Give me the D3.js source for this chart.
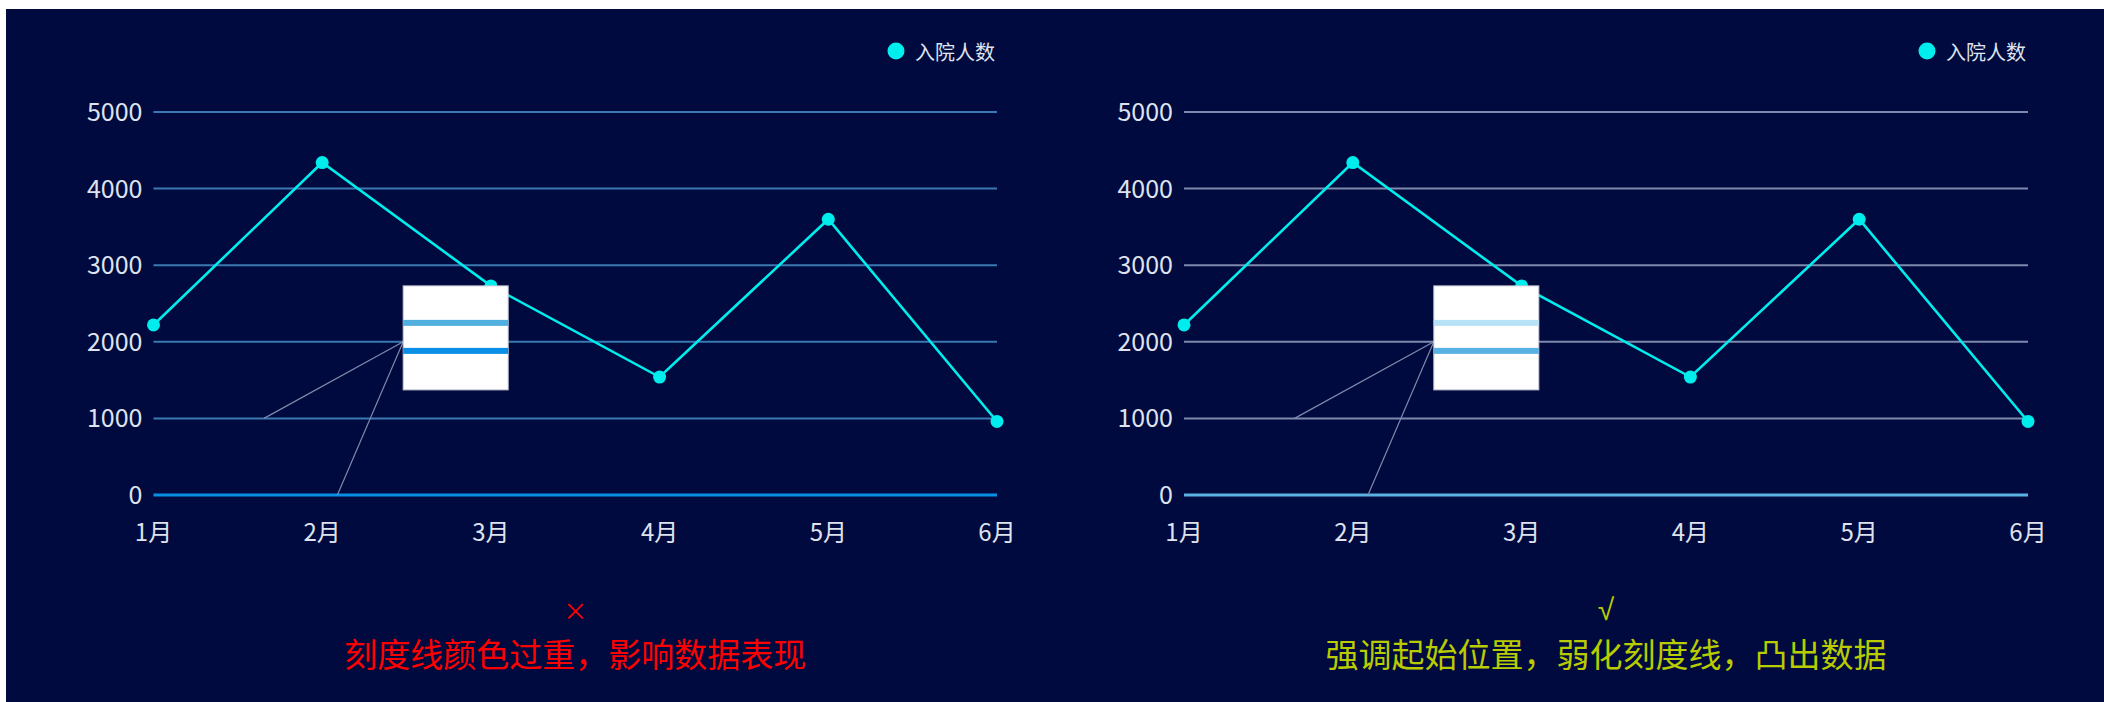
<!DOCTYPE html>
<html>
<head>
<meta charset="utf-8">
<script src="https://cdn.jsdelivr.net/npm/d3@7/dist/d3.min.js"></script>
<style>
  html, body { margin: 0; padding: 0; background: #ffffff; }
  svg { display: block; }
  text { font-family: "Noto Sans CJK SC", "Noto Sans", sans-serif; }
</style>
</head>
<body>
<svg id="chart" width="2104" height="702"></svg>
<script>
// Monthly admissions
const months = ["1月", "2月", "3月", "4月", "5月", "6月"];
const admissions = [2220, 4340, 2730, 1540, 3600, 960];
const yTicks = [0, 1000, 2000, 3000, 4000, 5000];
const seriesName = "入院人数";
const captions = ["刻度线颜色过重，影响数据表现", "强调起始位置，弱化刻度线，凸出数据"];
const marks = ["×", "√"];

const svg = d3.select("#chart");
svg.append("rect")
  .attr("x", 6).attr("y", 9)
  .attr("width", 2104 - 6).attr("height", 702 - 9)
  .attr("fill", "#010a3e");

const panels = [
  { x0: 153.5, x1: 997, grid: "#3a78b2", axis: "#0a8fe6",
    stripeTop: "#52b0e0", stripeBottom: "#0a8fe6", captionColor: "#ff0000" },
  { x0: 1184, x1: 2028, grid: "#7d8aae", axis: "#5ab2e2",
    stripeTop: "#b8e3f7", stripeBottom: "#5ab2e2", captionColor: "#b8cc00" }
];

const yScale = d3.scaleLinear().domain([0, 5000]).range([495, 112]);

panels.forEach((p, i) => {
  const g = svg.append("g");
  const x = d3.scalePoint().domain(months).range([p.x0, p.x1]);
  const step = x.step();

  // horizontal grid lines (value 0 drawn as the axis line)
  g.append("g").selectAll("line")
    .data(yTicks.filter(d => d !== 0))
    .join("line")
    .attr("x1", p.x0).attr("x2", p.x1)
    .attr("y1", d => yScale(d)).attr("y2", d => yScale(d))
    .attr("stroke", p.grid).attr("stroke-width", 2);

  g.append("line")
    .attr("x1", p.x0).attr("x2", p.x1)
    .attr("y1", yScale(0)).attr("y2", yScale(0))
    .attr("stroke", p.axis).attr("stroke-width", 3);

  // y tick labels
  g.append("g").selectAll("text")
    .data(yTicks)
    .join("text")
    .attr("x", p.x0 - 11)
    .attr("y", d => yScale(d) - 2)
    .attr("text-anchor", "end")
    .attr("dominant-baseline", "central")
    .attr("font-size", 25)
    .attr("fill", "#dfe3ee")
    .text(d => d);

  // x tick labels
  g.append("g").selectAll("text")
    .data(months)
    .join("text")
    .attr("x", d => x(d))
    .attr("y", 530)
    .attr("text-anchor", "middle")
    .attr("dominant-baseline", "central")
    .attr("font-size", 24)
    .attr("fill", "#dfe3ee")
    .text(d => d);

  // series line
  const line = d3.line()
    .x((d, k) => x(months[k]))
    .y(d => yScale(d));
  g.append("path")
    .datum(admissions)
    .attr("d", line)
    .attr("fill", "none")
    .attr("stroke", "#00eded")
    .attr("stroke-width", 2.6);

  // callout to the magnified inset
  const boxX = p.x0 + step * 1.48;
  const boxY = yScale(2730);
  const boxW = 105, boxH = 104;
  const anchorY = yScale(2000);
  g.append("g").selectAll("line")
    .data([[p.x0 + step * 0.655, yScale(1000)], [p.x0 + step * 1.09, yScale(0)]])
    .join("line")
    .attr("x1", d => d[0]).attr("y1", d => d[1])
    .attr("x2", boxX).attr("y2", anchorY)
    .attr("stroke", "#8088ac").attr("stroke-width", 1.2);

  g.selectAll("circle.pt")
    .data(admissions)
    .join("circle")
    .attr("class", "pt")
    .attr("cx", (d, k) => x(months[k]))
    .attr("cy", d => yScale(d))
    .attr("r", 6.5)
    .attr("fill", "#00eded");

  const inset = g.append("g");
  inset.append("rect")
    .attr("x", boxX).attr("y", boxY)
    .attr("width", boxW).attr("height", boxH)
    .attr("fill", "#ffffff")
    .attr("stroke", "#c6c8d4").attr("stroke-width", 1);
  inset.append("rect")
    .attr("x", boxX).attr("y", boxY + 34)
    .attr("width", boxW).attr("height", 6)
    .attr("fill", p.stripeTop);
  inset.append("rect")
    .attr("x", boxX).attr("y", boxY + 62)
    .attr("width", boxW).attr("height", 6)
    .attr("fill", p.stripeBottom);

  // legend
  g.append("circle")
    .attr("cx", p.x1 - 101).attr("cy", 51).attr("r", 8.5)
    .attr("fill", "#00eded");
  g.append("text")
    .attr("x", p.x1 - 82).attr("y", 51)
    .attr("dominant-baseline", "central")
    .attr("font-size", 20)
    .attr("fill", "#dfe3ee")
    .text(seriesName);

  // verdict mark and caption
  const cx = (p.x0 + p.x1) / 2;
  g.append("text")
    .attr("x", cx).attr("y", i === 0 ? 609 : 609)
    .attr("text-anchor", "middle")
    .attr("dominant-baseline", "central")
    .attr("font-size", i === 0 ? 24 : 30)
    .style("font-family", i === 0 ? null : "'Liberation Sans', 'DejaVu Sans', sans-serif")
    .attr("fill", p.captionColor)
    .text(marks[i]);
  g.append("text")
    .attr("x", cx).attr("y", 653)
    .attr("text-anchor", "middle")
    .attr("dominant-baseline", "central")
    .attr("font-size", 33)
    .attr("fill", p.captionColor)
    .text(captions[i]);
});
</script>
</body>
</html>
